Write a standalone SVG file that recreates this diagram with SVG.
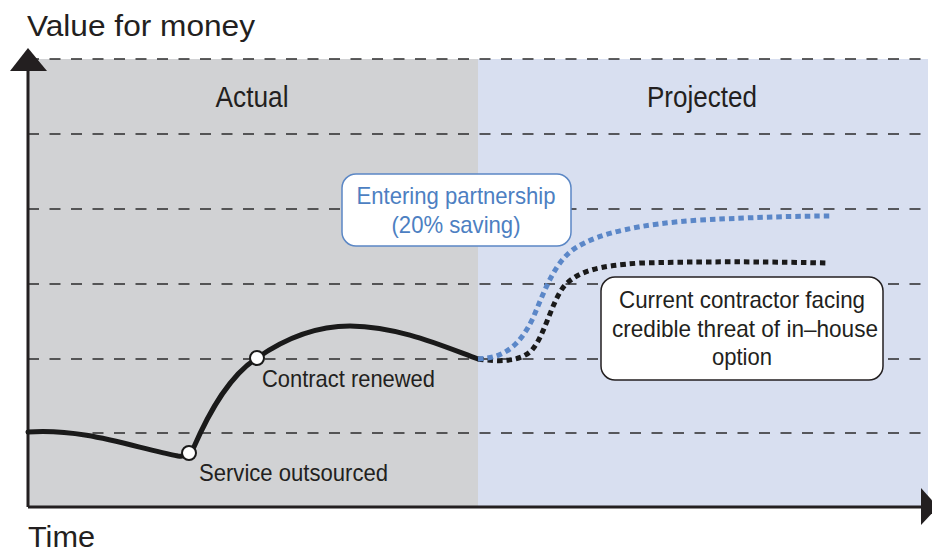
<svg xmlns="http://www.w3.org/2000/svg" width="932" height="556" viewBox="0 0 932 556">
<style>
text{font-family:"Liberation Sans",Arial,sans-serif;fill:#231f20}
.big{font-size:29px}
.lbl{font-size:24px}
.blue{fill:#4d7fc2}
.grid{stroke:#2b2b2b;stroke-width:1.5;stroke-dasharray:11 10.5;fill:none}
.axis{stroke:#231f20;stroke-width:3;fill:none}
.curve{fill:none;stroke:#1a1a1a;stroke-width:5;stroke-linecap:round}
.dot{fill:none;stroke-width:5;stroke-dasharray:5.5 4}
.pt{fill:#fff;stroke:#1a1a1a;stroke-width:2}
.box{fill:#fff;stroke-width:1.5}
</style>
<rect width="932" height="556" fill="#fff"/>
<g id="background">
<rect x="28" y="59" width="450" height="448" fill="#d1d2d4"/>
<rect x="478" y="59" width="450" height="448" fill="#d8dff0"/>
</g>
<g id="grid">
<path class="grid" d="M28,59H928M28,134H928M28,209H928M28,284H928M28,359H928M28,433H928"/>
</g>
<g id="axes">
<path class="axis" d="M28,507V62M28,507H924"/>
<polygon points="10,71 47,71 28,48" fill="#231f20"/>
<polygon points="921,488 921,525 938,507" fill="#231f20"/>
</g>
<g id="axis-labels">
<text class="big" x="27" y="36" textLength="228" lengthAdjust="spacingAndGlyphs">Value for money</text>
<text class="big" x="28" y="547" textLength="67" lengthAdjust="spacingAndGlyphs">Time</text>
<text class="big" x="252" y="107" text-anchor="middle" textLength="73" lengthAdjust="spacingAndGlyphs">Actual</text>
<text class="big" x="702" y="107" text-anchor="middle" textLength="110" lengthAdjust="spacingAndGlyphs">Projected</text>
</g>
<g id="connectors">
<path class="curve" d="M28,432 C85,428 135,448 178,456 C186,457 190,455 193,449 C210,410 230,375 257,358 C290,335 320,326 350,326 C400,327 440,345 478,359"/>
<path class="dot" stroke="#1a1a1a" d="M478,359 C500,362 520,362 532,350 C545,335 552,300 565,285 C580,270 600,266 640,263 C720,261 780,262 828,263"/>
<path class="dot" stroke="#5b87c8" d="M478,359 C505,358 520,345 533,318 C545,290 555,260 577,247 C600,233 640,224 700,220 C760,217 800,216 832,216"/>
</g>
<g id="service-outsourced">
<circle class="pt" cx="189" cy="453" r="7"/>
<text class="lbl" x="199" y="481" textLength="189" lengthAdjust="spacingAndGlyphs">Service outsourced</text>
</g>
<g id="contract-renewed">
<circle class="pt" cx="257" cy="358" r="7"/>
<text class="lbl" x="262" y="387" textLength="173" lengthAdjust="spacingAndGlyphs">Contract renewed</text>
</g>
<g id="entering-partnership">
<rect class="box" x="342" y="174" width="229" height="72" rx="14" stroke="#5b87c5"/>
<text class="lbl blue" x="456" y="204" text-anchor="middle" textLength="199" lengthAdjust="spacingAndGlyphs">Entering partnership</text>
<text class="lbl blue" x="456" y="233" text-anchor="middle" textLength="129" lengthAdjust="spacingAndGlyphs">(20% saving)</text>
</g>
<g id="current-contractor">
<rect class="box" x="601" y="277" width="282" height="103" rx="14" stroke="#231f20"/>
<text class="lbl" x="742" y="308" text-anchor="middle" textLength="246" lengthAdjust="spacingAndGlyphs">Current contractor facing</text>
<text class="lbl" x="745" y="337" text-anchor="middle" textLength="266" lengthAdjust="spacingAndGlyphs">credible threat of in–house</text>
<text class="lbl" x="742" y="365" text-anchor="middle" textLength="60" lengthAdjust="spacingAndGlyphs">option</text>
</g>
</svg>
